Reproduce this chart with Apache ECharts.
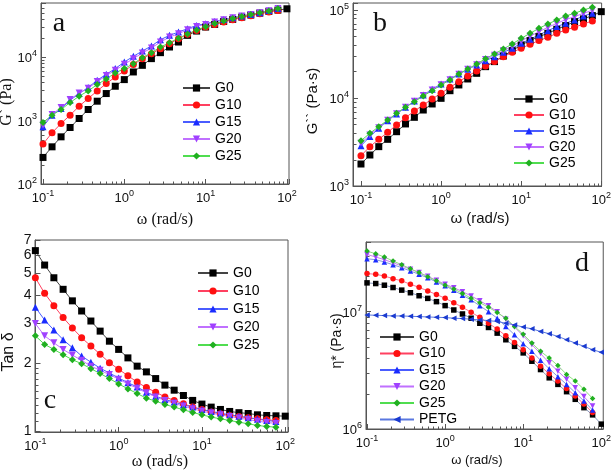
<!DOCTYPE html>
<html><head><meta charset="utf-8">
<script src="https://cdn.jsdelivr.net/npm/echarts@6/dist/echarts.min.js"></script>
<style>html,body{margin:0;padding:0;background:#fff}#c{width:614px;height:474px}</style>
</head><body><div id="c"></div>
<script>
// ---------------- DATA ----------------
const omega = [0.1,0.1292,0.1668,0.2154,0.2783,0.3594,0.4642,0.5995,0.7743,1,1.292,1.668,2.154,2.783,3.594,4.642,5.995,7.743,10,12.92,16.68,21.54,27.83,35.94,46.42,59.95,77.43,100];
const seriesNames = ['G0','G10','G15','G20','G25'];
const legendD = ['G0','G10','G15','G20','G25','PETG'];

// (a) G' (Pa)
const aG0  = [262,385,553,776,1075,1489,2013,2656,3461,4403,5810,7390,9420,11700,14360,17200,21900,25600,29600,32600,36300,39100,42500,45700,49100,52200,54700,57400];
const aG10 = [425,640,897,1213,1680,2218,2924,3810,4850,6030,7590,9420,11270,13520,16200,19400,22700,26200,29600,32600,35500,38600,41500,44600,48000,50900,54100];
const aG15 = [795,1213,1542,2086,2655,3300,4300,5340,6560,8340,10240,12420,14900,18700,21900,24700,27900,31400,33400,36300,39000,41500,44100,46800,49700,54000,58100];
const aG20 = [845,1243,1600,2138,2720,3220,4100,5090,6180,7670,9420,11560,13840,17200,20600,23200,26900,30300,32600,35500,38600,41500,44100,46800,49700,53500,58100];
const aG25 = [930,1213,1490,1918,2410,2924,3675,4510,5610,6560,7850,9770,11700,14350,16800,19800,23000,26600,30000,33600,36700,40500,43500,46800,49700,52800,58100];

// (b) G'' (Pa·s)
const bG0  = [1778,2250,2800,3390,4140,5070,6030,7300,8550,9910,12100,14060,16440,19060,22700,25900,30000,34500,40000,44900,49800,54300,60300,66400,73700,79100,86300,95700];
const bG10 = [2210,2800,3390,4070,4930,5980,7110,8320,9750,11300,13210,15340,17780,20270,23100,25900,29500,33000,36700,40700,44900,48900,54300,59300,63500,69300,75000];
const bG15 = [2870,3640,4520,5530,6580,7830,9250,10810,12540,14420,16440,18740,21170,23700,26500,29500,33000,36700,41800,46400,52000,58200,64700,70500,76900,85500,91600];
const bG20 = [3050,3800,4600,5570,6640,7830,9160,10640,12330,14180,16150,18580,21170,23920,27290,30550,34500,38650,44460,50200,56700,63500,70500,77600,84000,91600,99100];
const bG25 = [3270,3970,4720,5620,6700,7830,9080,10540,12110,14060,16020,18740,21360,24330,27990,31620,36060,41100,47600,54300,61900,69300,76900,85500,91600,100000,107200];

// (c) Tan δ
const cG0  = [6.28,5.42,4.76,4.23,3.76,3.39,3.06,2.76,2.49,2.29,2.10,1.93,1.82,1.70,1.59,1.51,1.43,1.36,1.31,1.27,1.24,1.215,1.20,1.19,1.174,1.166,1.162,1.158];
const cG10 = [4.76,4.06,3.58,3.17,2.85,2.58,2.37,2.18,2.00,1.87,1.75,1.64,1.55,1.48,1.41,1.36,1.315,1.27,1.24,1.207,1.186,1.166,1.154,1.139,1.127,1.116,1.108];
const cG15 = [3.52,3.09,2.79,2.53,2.33,2.14,2.01,1.89,1.80,1.71,1.63,1.56,1.48,1.42,1.374,1.337,1.30,1.27,1.24,1.215,1.195,1.174,1.158,1.139,1.123,1.108,1.097];
const cG20 = [2.98,2.63,2.45,2.29,2.16,2.05,1.93,1.85,1.77,1.69,1.61,1.54,1.47,1.41,1.36,1.32,1.283,1.249,1.219,1.195,1.174,1.154,1.135,1.119,1.100,1.086,1.075];
const cG25 = [2.63,2.41,2.29,2.17,2.06,1.98,1.88,1.79,1.70,1.61,1.53,1.46,1.39,1.35,1.305,1.27,1.236,1.203,1.174,1.147,1.127,1.108,1.089,1.071,1.053,1.042,1.035];

// (d) η* (Pa·s)
const dG0  = [1.758e7,1.735e7,1.679e7,1.605e7,1.525e7,1.449e7,1.366e7,1.297e7,1.216e7,1.125e7,1.033e7,9.55e6,8.79e6,7.96e6,7.33e6,6.56e6,5.76e6,5.06e6,4.45e6,3.78e6,3.21e6,2.73e6,2.40e6,2.08e6,1.79e6,1.52e6,1.32e6,1.10e6];
const dG10 = [2.11e7,2.08e7,2.01e7,1.91e7,1.83e7,1.71e7,1.61e7,1.50e7,1.40e7,1.30e7,1.19e7,1.09e7,9.87e6,8.95e6,7.96e6,7.10e6,6.23e6,5.47e6,4.74e6,4.03e6,3.43e6,2.95e6,2.56e6,2.21e6,1.91e6,1.63e6,1.38e6];
const dG15 = [2.82e7,2.77e7,2.65e7,2.51e7,2.37e7,2.22e7,2.08e7,1.94e7,1.79e7,1.66e7,1.52e7,1.38e7,1.26e7,1.12e7,1.00e7,8.79e6,7.47e6,6.35e6,5.33e6,4.59e6,3.85e6,3.26e6,2.79e6,2.40e6,2.04e6,1.73e6,1.45e6];
const dG20 = [3.07e7,2.92e7,2.77e7,2.61e7,2.45e7,2.30e7,2.15e7,2.00e7,1.85e7,1.71e7,1.60e7,1.48e7,1.36e7,1.24e7,1.12e7,1.00e7,8.61e6,7.38e6,6.23e6,5.23e6,4.39e6,3.66e6,3.11e6,2.65e6,2.25e6,1.89e6,1.57e6];
const dG25 = [3.28e7,3.11e7,2.92e7,2.70e7,2.51e7,2.32e7,2.15e7,1.98e7,1.83e7,1.68e7,1.56e7,1.43e7,1.30e7,1.19e7,1.09e7,9.82e6,8.79e6,7.47e6,6.43e6,5.40e6,4.59e6,4.03e6,3.47e6,2.92e6,2.56e6,2.18e6,1.82e6];
const dPETG = [9.37e6,9.31e6,9.25e6,9.19e6,9.19e6,9.13e6,9.07e6,9.01e6,8.95e6,8.90e6,8.79e6,8.73e6,8.61e6,8.50e6,8.39e6,8.23e6,7.96e6,7.71e6,7.38e6,7.14e6,6.78e6,6.48e6,6.15e6,5.76e6,5.40e6,5.06e6,4.74e6,4.50e6];

// tick positions
const xMinorTicks = [0.2,0.3,0.4,0.5,0.6,0.7,0.8,0.9,2,3,4,5,6,7,8,9,20,30,40,50,60,70,80,90];
const aYMinor = [200,300,400,500,600,700,800,900,2000,3000,4000,5000,6000,7000,8000,9000,20000,30000,40000,50000,60000,70000];
const bYMinor = [2000,3000,4000,5000,6000,7000,8000,9000,20000,30000,40000,50000,60000,70000,80000,90000];
const cYMajor = [1,2,3,4,5,6,7];
const cYMinor = [1.1,1.2,1.3,1.4,1.5,1.6,1.7,1.8,1.9];
const dYMinor = [2e6,3e6,4e6,5e6,6e6,7e6,8e6,9e6,2e7,3e7];

// ---------------- STYLE ----------------
const SANS = '"Liberation Sans", Arial, sans-serif';
const SERIF = '"Liberation Serif", "Times New Roman", serif';
const AX = '#555';
const symbols = ['rect','circle','triangle','path://M0,0L10,0L5,9Z','diamond','path://M0,5L9,0L9,10Z'];
const markColors = ['#000000','#ff1010','#1a2cff','#a040ff','#20b020','#1a3ad0'];
const lineColors = ['#444444','#ff4060','#4a5cff','#c070ff','#50dd50','#4a6ad8'];
const lineColorsD = ['#8a9ac0','#ff7090','#8898e0','#c880f0','#90e080','#5a78e0'];

const axes = {
  x: [
    {min:0.0945, max:106},
    {min:0.0795, max:101},
    {min:0.099, max:108},
    {min:0.097, max:106}
  ],
  y: [
    {min:100, max:70800},
    {min:1000, max:120000},
    {min:0.985, max:7},
    {min:1e6, max:3.92e7}
  ]
};
const grids = [
  {left:41, top:3, width:248, height:181},
  {left:353, top:3, width:250, height:183},
  {left:35, top:240, width:253, height:192},
  {left:366, top:242, width:241, height:187}
];

function decadeFmt(v){
  const l = Math.log10(v), e = Math.round(l);
  if (Math.abs(l - e) > 1e-6) return '';
  return '{b|10}{s|' + e + '}';
}
const rich = {
  b:{fontSize:13, fontFamily:SANS, color:'#111', lineHeight:16, verticalAlign:'bottom'},
  s:{fontSize:9, fontFamily:SANS, color:'#111', lineHeight:9, verticalAlign:'top'}
};

const xAxis = grids.map((g,i)=>({
  type:'log', logBase:10, gridIndex:i, min:axes.x[i].min, max:axes.x[i].max,
  axisLine:{lineStyle:{color:AX,width:1}},
  axisTick:{inside:true,length:5,lineStyle:{color:AX}},
  splitLine:{show:false}, minorTick:{show:false},
  axisLabel:{formatter:decadeFmt, rich:rich, margin:5}
}));
const yAxis = grids.map((g,i)=>({
  type:'log', logBase:10, gridIndex:i, min:axes.y[i].min, max:axes.y[i].max,
  axisLine:{lineStyle:{color:AX,width:1}},
  axisTick:{show: i!==2, inside:true,length:5,lineStyle:{color:AX}},
  splitLine:{show:false}, minorTick:{show:false},
  axisLabel:{show: i!==2, formatter:decadeFmt, rich:rich, margin:4}
}));

const panelData = [
  [aG0,aG10,aG15,aG20,aG25],
  [bG0,bG10,bG15,bG20,bG25],
  [cG0,cG10,cG15,cG20,cG25],
  [dG0,dG10,dG15,dG20,dG25,dPETG]
];
const series = [];
panelData.forEach((arr,p)=>{
  arr.forEach((vals,s)=>{
    series.push({
      name: legendD[s], type:'line', xAxisIndex:p, yAxisIndex:p,
      data: vals.map((v,k)=>[omega[k], v]),
      symbol: symbols[s], symbolSize: p===3 ? 5.5 : 7,
      showAllSymbol:true, animation:false,
      itemStyle:{color:markColors[s]},
      lineStyle:{color:(p===3?lineColorsD:lineColors)[s], width:1},
      z:3
    });
  });
});

// tick decoration series (minor ticks & panel c labels)
function tickSeries(p, yMinorList, yMajorList){
  const xm = axes.x[p].min, ym = axes.y[p].min;
  const data = [];
  xMinorTicks.forEach(v=>{ if (v>xm && v<axes.x[p].max) data.push([v, ym, 0]); });
  yMinorList.forEach(v=>{ if (v>ym && v<axes.y[p].max) data.push([xm, v, 1]); });
  (yMajorList||[]).forEach(v=>data.push([xm, v, 2]));
  return {
    type:'custom', xAxisIndex:p, yAxisIndex:p, silent:true, animation:false, clip:false, z:2,
    data:data,
    renderItem:function(params, api){
      const kind = api.value(2);
      const pt = api.coord([api.value(0), api.value(1)]);
      const x = Math.round(pt[0])+0.5, y = Math.round(pt[1])+0.5;
      if (kind===0) return {type:'line', shape:{x1:x,y1:y,x2:x,y2:y-3}, style:{stroke:AX,lineWidth:1}};
      if (kind===1) return {type:'line', shape:{x1:x,y1:y,x2:x+3,y2:y}, style:{stroke:AX,lineWidth:1}};
      return {type:'group', children:[
        {type:'line', shape:{x1:x,y1:y,x2:x+5,y2:y}, style:{stroke:AX,lineWidth:1}},
        {type:'text', x:x-4, y:y, style:{text:String(api.value(1)), fill:'#111', font:'14px '+SANS, align:'right', verticalAlign:'middle'}}
      ]};
    }
  };
}
series.push(tickSeries(0, aYMinor));
series.push(tickSeries(1, bYMinor));
series.push(tickSeries(2, cYMinor, cYMajor));
series.push(tickSeries(3, dYMinor));

function legendAt(left, top, itemWidth, gap, names){
  return {
    orient:'vertical', left:left, top:top, padding:0, itemWidth:itemWidth, itemHeight:9, itemGap:gap,
    selectedMode:false, icon: undefined,
    textStyle:{fontSize:14, fontFamily:SANS, color:'#000', padding:[0,0,0,0]},
    data:names
  };
}
const legend = [
  legendAt(182, 81, 27, 3, seriesNames),
  legendAt(513, 92, 30, 2, seriesNames),
  legendAt(197, 266, 30, 4, seriesNames),
  legendAt(379, 330, 34, 2.5, legendD)
];

function txt(x,y,text,font,rot){
  return {type:'text', x:x, y:y, rotation:rot||0, silent:true,
    style:{text:text, font:font, fill:'#111', align:'center', verticalAlign:'middle'}};
}
const graphic = [
  txt(59,24,'a','28px '+SERIF),
  txt(380,24,'b','28px '+SERIF),
  txt(50,401,'c','28px '+SERIF),
  txt(582,264,'d','28px '+SERIF),
  txt(165,220,'ω (rad/s)','16px '+SERIF),
  txt(7,102,'G` (Pa)','16px '+SERIF, Math.PI/2),
  txt(480,219,'ω (rad/s)','15px '+SANS),
  txt(313,101,'G`` (Pa·s)','15px '+SANS, Math.PI/2),
  txt(160,462,'ω (rad/s)','16px '+SERIF),
  txt(9,352,'Tan δ','16px '+SANS, Math.PI/2),
  txt(477,460,'ω (rad/s)','13px '+SANS),
  txt(337,341,'η* (Pa·s)','14px '+SANS, Math.PI/2)
];

const chart = echarts.init(document.getElementById('c'), null, {renderer:'canvas'});
chart.setOption({
  backgroundColor:'#fff', animation:false,
  grid: grids.map(g=>Object.assign({show:true, borderColor:AX, borderWidth:1, backgroundColor:'transparent', containLabel:false}, g)),
  xAxis:xAxis, yAxis:yAxis, series:series, legend:legend, graphic:graphic
});
</script></body></html>
